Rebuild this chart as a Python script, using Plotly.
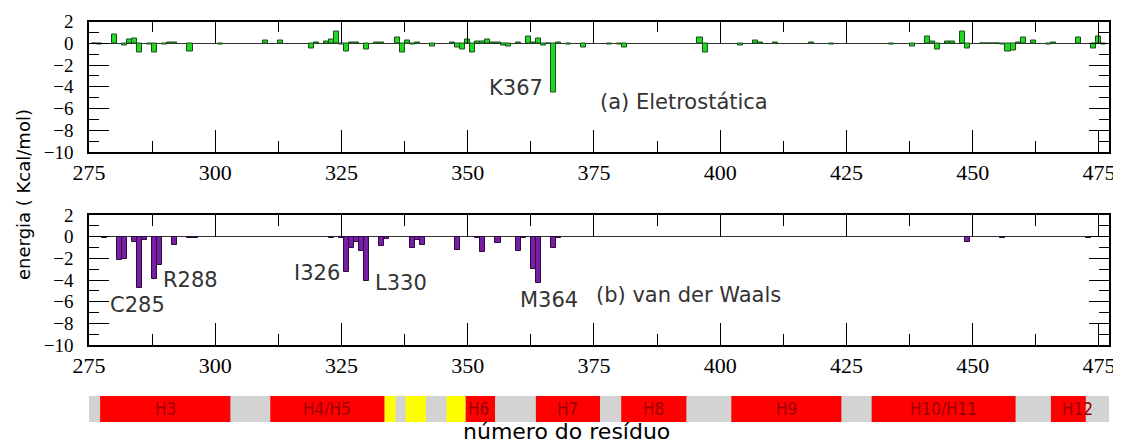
import plotly.graph_objects as go

# ---------------- data ----------------
elec_res = [276, 277, 280, 282, 283, 284, 285, 287, 288, 290, 291, 292, 295, 301,
            310, 313, 319, 320, 322, 323, 324, 325, 326, 327, 328, 330, 332, 333,
            336, 337, 338, 339, 340, 343, 347, 348, 349, 350, 351, 352, 353, 354,
            355, 356, 357, 358, 360, 362, 363, 364, 365, 366, 367, 368, 370, 373,
            378, 380, 381, 396, 397, 404, 407, 408, 411, 418, 422, 434, 438, 441,
            442, 443, 445, 446, 448, 449, 452, 453, 454, 455, 456, 457, 458, 459,
            460, 462, 465, 466, 471, 474, 475, 476]
elec_val = [-0.05, -0.1, 0.8, -0.2, 0.3, 0.45, -0.85, -0.1, -0.85, -0.1, 0.1, 0.1, -0.75, -0.1,
            0.25, 0.25, -0.45, 0.1, 0.15, 0.35, 1.1, -0.1, -0.75, 0.05, 0.05, -0.6, 0.1, 0.05,
            0.5, -0.85, 0.25, -0.15, 0.05, -0.3, 0.05, -0.35, -0.6, 0.3, -0.85, 0.2, 0.2, 0.3,
            0.1, 0.05, -0.2, -0.3, 0.05, 0.65, 0.1, 0.45, -0.2, -0.05, -4.5, 0.05, -0.1, -0.35,
            -0.1, -0.1, -0.35, 0.5, -0.85, -0.2, 0.25, 0.1, 0.1, 0.1, -0.1, -0.1, -0.3, 0.6,
            0.15, -0.6, 0.15, 0.15, 1.1, -0.5, -0.05, -0.05, -0.05, -0.05, -0.1, -0.8, -0.65, 0.1,
            0.5, 0.25, -0.1, 0.05, 0.5, -0.5, 0.6, -0.1]

vdw_res = [278, 281, 282, 284, 285, 286, 288, 289, 292, 295, 296, 323, 325, 326,
           327, 328, 329, 330, 333, 334, 339, 340, 341, 348, 352, 353, 356, 360,
           361, 363, 364, 367, 368, 449, 456, 473]
vdw_val = [-0.1, -2.15, -2.05, -0.45, -4.75, -0.3, -3.9, -2.6, -0.75, -0.1, -0.1, -0.1, -0.15, -3.3,
           -1.0, -0.45, -1.3, -4.05, -0.85, -0.2, -1.0, -0.3, -0.75, -1.2, -0.15, -1.45, -0.6, -1.35,
           -0.1, -3.0, -4.3, -1.0, -0.1, -0.5, -0.1, -0.1]

# labelled residues: (text, residue x, energy y)
elec_lbl_text = ["K367"]
elec_lbl_x = [365.3]
elec_lbl_y = [-4.1]

vdw_lbl_text = ["C285", "R288", "I326", "L330", "M364"]
vdw_lbl_x = [278.8, 289.3, 325.1, 331.2, 360.0]
vdw_lbl_y = [-6.3, -4.0, -3.35, -4.3, -5.85]
vdw_lbl_anchor = ["left", "left", "right", "left", "left"]

# secondary structure
helix_names = ["H3", "H4/H5", "H6", "H7", "H8", "H9", "H10/H11", "H12"]
helix_start = [277.2, 310.9, 349.6, 363.5, 380.4, 402.2, 430.0, 465.5]
helix_end = [303.0, 333.5, 355.4, 376.2, 393.3, 424.0, 458.5, 472.4]
helix_label_x = [290.1, 322.2, 352.2, 369.8, 386.8, 413.1, 444.2, 470.8]
strand_start = [333.5, 337.7, 345.8]
strand_end = [335.7, 341.7, 349.6]
struct_start, struct_end = 275.0, 477.0

x_ticks = [275, 300, 325, 350, 375, 400, 425, 450, 475]
y_ticks = [2, 0, -2, -4, -6, -8, -10]

# ---------------- figure ----------------
# the page body adds an 8px margin, so the figure is 8px smaller and
# positions (measured in page pixels) are shifted by OFF
OFF = 8.0
FW, FH = 1113, 436
W = 1020.0


def py(y_page):
    return 1 - (y_page - OFF) / FH


def px(x_page):
    return (x_page - OFF - 81) / W


fig = go.Figure()
fig.add_trace(go.Bar(x=elec_res, y=elec_val, width=1, xaxis="x", yaxis="y",
                     marker=dict(color="#22d822", line=dict(color="#1b4d1b", width=1))))
fig.add_trace(go.Bar(x=vdw_res, y=vdw_val, width=1, xaxis="x2", yaxis="y2",
                     marker=dict(color="#7a1ea8", line=dict(color="#2b0b3b", width=1))))

SERIF = "Liberation Serif, DejaVu Serif, serif"
tick_font_x = dict(family=SERIF, size=22, color="black")
tick_font_y = dict(family=SERIF, size=19, color="black")


def xax(anchor):
    return dict(range=[275, 477], tickvals=x_ticks, ticks="inside", ticklen=22, tickwidth=1,
                tickcolor="black", showline=True, linecolor="black", linewidth=1.5,
                mirror="ticks", showgrid=False, zeroline=False, anchor=anchor,
                tickfont=tick_font_x, automargin=False,
                minor=dict(tick0=275, dtick=12.5, ticks="inside", ticklen=11, tickcolor="black",
                           showgrid=False))


def yax(domain, anchor):
    return dict(domain=domain, range=[-10, 2], tickvals=y_ticks, ticks="inside", ticklen=20,
                tickwidth=1, tickcolor="black", showline=True, linecolor="black", linewidth=1.5,
                mirror="ticks", showgrid=False, zeroline=True, zerolinecolor="#333333",
                zerolinewidth=1, anchor=anchor, tickfont=tick_font_y, ticklabelstandoff=10,
                automargin=False,
                minor=dict(tick0=0, dtick=1, ticks="inside", ticklen=10, tickcolor="black",
                           showgrid=False))


fig.update_layout(
    width=FW, height=FH,
    margin=dict(l=81, r=12, t=0, b=0, autoexpand=False),
    paper_bgcolor="white", plot_bgcolor="white",
    showlegend=False, bargap=0,
    xaxis=xax("y"),
    yaxis=yax([py(152), py(21.5)], "x"),
    xaxis2=xax("y2"),
    yaxis2=yax([py(345), py(215)], "x2"),
)

ann_font = dict(family="DejaVu Sans", size=21, color="#333333")
annotations = []
for t, x, y in zip(elec_lbl_text, elec_lbl_x, elec_lbl_y):
    annotations.append(dict(text=t, x=x, y=y, xref="x", yref="y", xanchor="right",
                            yanchor="middle", showarrow=False, font=ann_font))
annotations.append(dict(text="(a) Eletrostática", x=375.8, y=-5.4, xref="x", yref="y",
                        xanchor="left", yanchor="middle", showarrow=False, font=ann_font))
for t, x, y, a in zip(vdw_lbl_text, vdw_lbl_x, vdw_lbl_y, vdw_lbl_anchor):
    annotations.append(dict(text=t, x=x, y=y, xref="x2", yref="y2", xanchor=a,
                            yanchor="middle", showarrow=False, font=ann_font))
annotations.append(dict(text="(b) van der Waals", x=375.0, y=-5.4, xref="x2", yref="y2",
                        xanchor="left", yanchor="middle", showarrow=False, font=ann_font))

# axis titles
annotations.append(dict(text="energia ( Kcal/mol)", x=px(24), y=py(195),
                        xref="paper", yref="paper", textangle=-90, showarrow=False,
                        xanchor="center", yanchor="middle",
                        font=dict(family="DejaVu Sans", size=18, color="black", weight=500)))
annotations.append(dict(text="número do resíduo", x=px(566), y=py(431),
                        xref="paper", yref="paper", showarrow=False, xanchor="center",
                        yanchor="middle",
                        font=dict(family="DejaVu Sans", size=22, color="black")))

# secondary structure bar
sy0, sy1 = py(422), py(396)
shapes = [dict(type="rect", xref="x2", yref="paper", x0=struct_start, x1=struct_end,
               y0=sy0, y1=sy1, fillcolor="#d3d3d3", line=dict(width=0), layer="above")]
for s, e in zip(strand_start, strand_end):
    shapes.append(dict(type="rect", xref="x2", yref="paper", x0=s, x1=e, y0=sy0, y1=sy1,
                       fillcolor="#ffff00", line=dict(width=0), layer="above"))
for s, e in zip(helix_start, helix_end):
    shapes.append(dict(type="rect", xref="x2", yref="paper", x0=s, x1=e, y0=sy0, y1=sy1,
                       fillcolor="#ff0000", line=dict(width=0), layer="above"))
for name, lx in zip(helix_names, helix_label_x):
    annotations.append(dict(text=name, x=lx, y=(sy0 + sy1) / 2, xref="x2", yref="paper",
                            showarrow=False, xanchor="center", yanchor="middle",
                            font=dict(family="DejaVu Sans Condensed", size=17, color="#990000")))

fig.update_layout(annotations=annotations, shapes=shapes)
fig.write_html("out.html")
